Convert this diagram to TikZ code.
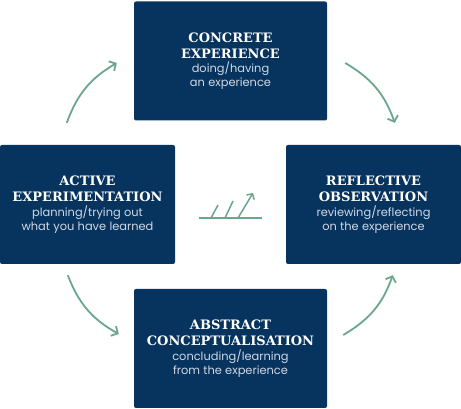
\documentclass[tikz,border=0pt]{standalone}
\usepackage{fontspec}
\usetikzlibrary{arrows.meta}
\newfontfamily\stagefont{DejaVu Serif}
\newfontfamily\notefont{Poppins}
\definecolor{navy}{RGB}{7,52,94}
\definecolor{sage}{RGB}{106,166,139}
\definecolor{paletext}{RGB}{208,216,228}
\newcommand{\stagetext}[4]{%
  {\stagefont\bfseries\fontsize{13}{16}\selectfont #1\\#2\par}%
  \vspace{1pt}%
  {\notefont\color{paletext}\fontsize{11.4}{13.8}\selectfont #3\\#4\par}}
\begin{document}
\begin{tikzpicture}[x=1pt, y=1pt,
    stage/.style={fill=navy, rounded corners=2pt, text=white, inner sep=0pt,
      align=center, text width=172pt},
    wide/.style={minimum width=193pt, minimum height=119pt},
    side/.style={minimum width=175pt, minimum height=119pt},
    cycle/.style={draw=sage, line width=1.8pt,
      -{Straight Barb[length=5pt,width=11pt]}}]
    \useasboundingbox (0,0) rectangle (461,409);
    % the four stages
    \node[stage, wide] (ce) at (230.5,348) {\stagetext{CONCRETE}{EXPERIENCE}{doing/having}{an experience}};%
    \node[stage, side] (ro) at (373.5,204.5) {\stagetext{REFLECTIVE}{OBSERVATION}{reviewing/reflecting}{on the experience}};%
    \node[stage, wide] (ac) at (230.5,60.5) {\stagetext{ABSTRACT}{CONCEPTUALISATION}{concluding/learning}{from the experience}};%
    \node[stage, side] (ae) at (87.5,204.5) {\stagetext{ACTIVE}{EXPERIMENTATION}{planning/trying out}{what you have learned}};%
    % arrows round the cycle
    \draw[cycle] ([xshift=67pt,yshift=22pt]ae.north west) to[bend left=20] ([xshift=-17pt,yshift=-2pt]ce.west);%
    \draw[cycle] ([xshift=18pt,yshift=-2pt]ce.east) to[bend left=20] ([xshift=109pt,yshift=22pt]ro.north west);%
    \draw[cycle] ([xshift=16pt,yshift=13.5pt]ac.east) to[bend right=20] ([xshift=107pt,yshift=-11pt]ro.south west);%
    \draw[cycle] ([xshift=68pt,yshift=-11pt]ae.south west) to[bend right=20] ([xshift=-15pt,yshift=14.5pt]ac.west);%
    % the small sign in the middle
    \draw[sage, line width=1.5pt] (199,191) -- (262,191);%
    \draw[sage, line width=1.5pt] (211,191) -- (218,204);%
    \draw[sage, line width=1.5pt] (225,191) -- (233,208);%
    \draw[sage, line width=1.5pt, -{Straight Barb[length=4pt,width=9pt]}] (238,191) -- (253,216);%
\end{tikzpicture}
\end{document}
